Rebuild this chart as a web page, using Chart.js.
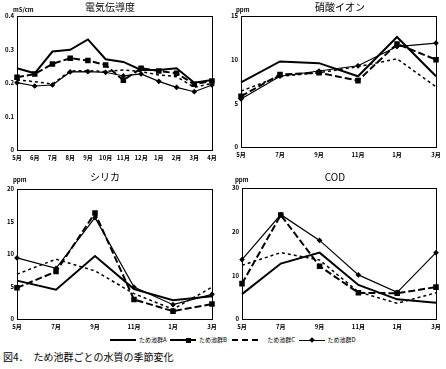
<!DOCTYPE html>
<html>
<head>
<meta charset="utf-8">
<script src="https://cdn.jsdelivr.net/npm/chart.js@4"></script>
<style>
  body { margin: 0; background: #fff; }
  #wrap { position: relative; width: 446px; height: 369px; font-family: "Noto Sans CJK JP", sans-serif; color: #000; }
  canvas { position: absolute; }
  .t { position: absolute; font-size: 10px; line-height: 12px; white-space: nowrap; transform: translateX(-50%); }
  .u { position: absolute; font-size: 6px; line-height: 8px; font-weight: bold; }
  #legend { position: absolute; left: 110px; top: 336px; font-size: 6px; line-height: 8px; white-space: nowrap; }
  #legend span { display: inline-block; vertical-align: middle; }
  .ln { width: 26px; height: 0; border-top: 2px solid #000; position: relative; margin-right: 3px; }
  .mk { position: absolute; top: -4px; width: 5px; height: 5px; background: #000; }
  .lb { margin-right: 2px; }
  #cap { position: absolute; left: 3px; top: 351px; font-size: 10px; line-height: 12px; }
</style>
</head>
<body>
<div id="wrap">
  <canvas id="c1" width="223" height="165" style="left:0;top:0"></canvas>
  <canvas id="c2" width="223" height="165" style="left:223px;top:0"></canvas>
  <canvas id="c3" width="223" height="165" style="left:0;top:165px"></canvas>
  <canvas id="c4" width="223" height="165" style="left:223px;top:165px"></canvas>

  <div class="t" style="left:110px;top:1px">電気伝導度</div>
  <div class="t" style="left:340px;top:1px">硝酸イオン</div>
  <div class="t" style="left:105px;top:171px">シリカ</div>
  <div class="t" style="left:335px;top:171px">COD</div>
  <div class="u" style="left:13px;top:6px">mS/cm</div>
  <div class="u" style="left:236px;top:6px">ppm</div>
  <div class="u" style="left:13px;top:176px">ppm</div>
  <div class="u" style="left:235px;top:176px">ppm</div>

  <div id="legend">
    <span class="ln"></span><span class="lb">ため池群A</span>
    <span class="ln" style="border-top-style:solid"><span class="mk" style="left:16px;top:-3.5px"></span></span><span class="lb">ため池群B</span>
    <span class="ln" style="border-top:2px dashed #000;margin-left:2px;margin-right:9px"></span><span class="lb">ため池群C</span>
    <span class="ln" style="border-top-width:1px"><span class="mk" style="left:11px;top:-3px;width:4px;height:4px;transform:rotate(45deg)"></span></span><span class="lb">ため池群D</span>
  </div>
  <div id="cap">図4．　ため池群ごとの水質の季節変化</div>
</div>

<script>
// 月ラベル
const months12 = ['5月','6月','7月','8月','9月','10月','11月','12月','1月','2月','3月','4月'];
const months6 = ['5月','7月','9月','11月','1月','3月'];

// 電気伝導度 (mS/cm)
const ecA = [0.244, 0.229, 0.294, 0.299, 0.330, 0.271, 0.263, 0.239, 0.239, 0.244, 0.201, 0.209];
const ecB = [0.217, 0.227, 0.257, 0.274, 0.267, 0.254, 0.208, 0.244, 0.236, 0.229, 0.196, 0.206];
const ecC = [0.209, 0.204, 0.197, 0.236, 0.237, 0.234, 0.239, 0.234, 0.224, 0.219, 0.187, 0.199];
const ecD = [0.201, 0.191, 0.194, 0.233, 0.234, 0.232, 0.221, 0.227, 0.205, 0.187, 0.174, 0.194];

// 硝酸イオン (ppm)
const no3A = [7.4, 9.8, 9.6, 8.1, 12.6, 8.1];
const no3B = [5.8, 8.3, 8.5, 7.6, 11.8, 10.0];
const no3C = [6.4, 8.1, 8.5, 9.2, 10.1, 6.9];
const no3D = [5.5, 8.1, 8.7, 9.3, 11.5, 11.9];

// シリカ (ppm)
const siA = [5.9, 4.5, 9.7, 4.6, 2.9, 3.5];
const siB = [4.8, 7.3, 16.3, 3.0, 1.2, 2.3];
const siC = [6.9, 9.2, 7.4, 3.9, 1.5, 4.9];
const siD = [9.4, 7.8, 15.6, 4.9, 2.2, 3.8];

// COD (ppm)
const codA = [5.7, 12.7, 15.2, 7.8, 4.5, 3.7];
const codB = [8.1, 23.8, 12.1, 6.0, 5.9, 7.3];
const codC = [12.3, 15.2, 13.5, 6.2, 3.6, 6.0];
const codD = [13.6, 23.9, 18.0, 10.1, 6.1, 15.2];

const tickFont = { family: 'Noto Sans CJK JP', size: 6, weight: 'bold' };

// プロット枠
const framePlugin = {
  id: 'frame',
  afterDraw(chart) {
    const a = chart.chartArea, ctx = chart.ctx;
    ctx.save();
    ctx.strokeStyle = '#000';
    ctx.lineWidth = 1;
    ctx.strokeRect(a.left + 0.5, a.top + 0.5, a.right - a.left, a.bottom - a.top);
    ctx.restore();
  }
};

function series(a, b, c, d) {
  return [
    { label: 'ため池群A', data: a, borderColor: '#000', borderWidth: 2, pointRadius: 0, tension: 0 },
    { label: 'ため池群B', data: b, borderColor: '#000', backgroundColor: '#000', borderWidth: 2, borderDash: [7, 3],
      pointStyle: 'rect', pointRadius: 2.5, tension: 0 },
    { label: 'ため池群C', data: c, borderColor: '#000', borderWidth: 1.5, borderDash: [3, 3], pointRadius: 0, tension: 0 },
    { label: 'ため池群D', data: d, borderColor: '#000', backgroundColor: '#000', borderWidth: 1.2,
      pointStyle: 'rectRot', pointRadius: 2, tension: 0 }
  ];
}

function makeChart(id, labels, sets, max, step, box) {
  return new Chart(document.getElementById(id), {
    type: 'line',
    data: { labels: labels, datasets: sets },
    options: {
      responsive: false,
      animation: false,
      layout: { padding: { top: box.top, right: box.right, left: 0, bottom: 0 } },
      plugins: { legend: { display: false }, tooltip: { enabled: false } },
      scales: {
        x: {
          offset: false,
          grid: { display: false, drawTicks: false },
          border: { display: true, color: '#000', width: 1 },
          ticks: { font: tickFont, color: '#000', autoSkip: false, maxRotation: 0, padding: 4 },
          afterFit(s) { s.height = box.xh; }
        },
        y: {
          min: 0, max: max,
          grid: { display: false, drawTicks: false },
          border: { display: true, color: '#000', width: 1 },
          ticks: { stepSize: step, font: tickFont, color: '#000', padding: 3 },
          afterFit(s) { s.width = box.yw; }
        }
      }
    },
    plugins: [framePlugin]
  });
}

makeChart('c1', months12, series(ecA, ecB, ecC, ecD), 0.4, 0.1, { top: 16, right: 11, xh: 15, yw: 17 });
makeChart('c2', months6, series(no3A, no3B, no3C, no3D), 15, 5, { top: 16, right: 10, xh: 18, yw: 18 });
makeChart('c3', months6, series(siA, siB, siC, siD), 20, 5, { top: 24, right: 11, xh: 11, yw: 17 });
makeChart('c4', months6, series(codA, codB, codC, codD), 30, 10, { top: 23, right: 10, xh: 11, yw: 19 });
</script>
</body>
</html>
